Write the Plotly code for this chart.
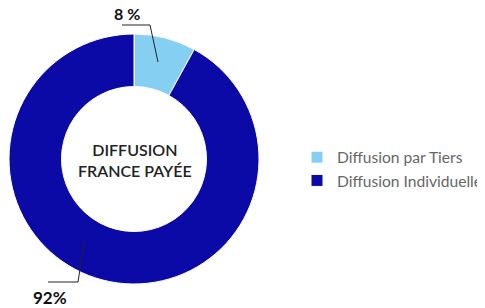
import plotly.graph_objects as go

labels = ["Diffusion par Tiers", "Diffusion Individuelle"]
values = [8, 92]
colors = ["#85d0f2", "#0b0aa6"]
pct_labels = ["8 %", "92%"]
center_text = "DIFFUSION<br>FRANCE PAYÉE"

W, H = 485, 308
OFF = 8  # page body margin

def px(x, y):
    return (x - OFF) / W, 1 - (y - OFF) / H

x0, y0 = px(9, 34)
x1, y1 = px(259, 284)

fig = go.Figure(go.Pie(
    labels=labels, values=values, sort=False, direction="clockwise", rotation=0,
    hole=0.58, marker=dict(colors=colors, line=dict(color="white", width=1)),
    textinfo="none", hoverinfo="label+percent",
    domain=dict(x=[x0, x1], y=[y1, y0]),
))

# leader lines
for pts in ([(158, 62), (150, 25), (122, 25)], [(84, 243), (78, 282), (48, 282)]):
    path = ""
    for i, (x, y) in enumerate(pts):
        X, Y = px(x, y)
        path += ("M" if i == 0 else "L") + f"{X},{Y} "
    fig.add_shape(type="path", path=path, xref="paper", yref="paper",
                  line=dict(color="#222", width=1))

ann_pos = [(127, 14), (50, 297)]
for t, (x, y), s in zip(pct_labels, ann_pos, [16, 17]):
    X, Y = px(x, y)
    fig.add_annotation(text=f"<b>{t}</b>", x=X, y=Y, xref="paper", yref="paper",
                       showarrow=False, font=dict(family="Lato", size=s, color="#111"),
                       xanchor="center", yanchor="middle")

X, Y = px(135, 160)
fig.add_annotation(text=center_text, x=X, y=Y, xref="paper", yref="paper",
                   showarrow=False, font=dict(family="Lato", size=16, color="#222", weight=600),
                   xanchor="center", yanchor="middle", align="center")

lx, ly = px(297, 169)
fig.update_layout(
    width=W, height=H, margin=dict(l=0, r=0, t=0, b=0),
    paper_bgcolor="white", plot_bgcolor="white",
    font=dict(family="Lato"),
    showlegend=True,
    legend=dict(x=lx, y=ly, xanchor="left", yanchor="middle",
                font=dict(family="Lato", size=15.6, color="#666"),
                itemwidth=30, tracegroupgap=4),
)

fig.write_html("out.html")
